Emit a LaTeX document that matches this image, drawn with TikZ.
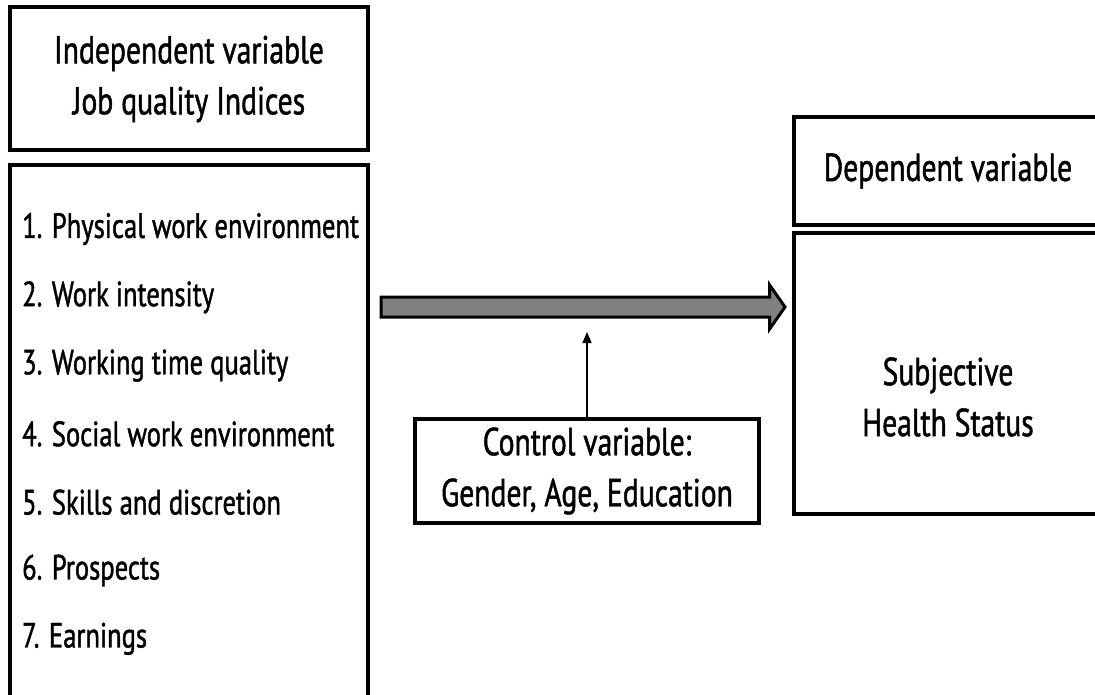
\documentclass[tikz,border=0pt]{standalone}
\usepackage{fontspec}
\setmainfont{PT Sans}[FakeStretch=0.76,FakeBold=1.2]
\usetikzlibrary{shapes.arrows,arrows.meta}

\begin{document}
\begin{tikzpicture}[
  x=1pt, y=-1pt,
  box/.style={rectangle, draw, line width=4pt, align=center, inner sep=0pt},
  item/.style={anchor=west, inner sep=0pt, font=\fontsize{35}{40}\selectfont},
  big/.style={font=\fontsize{39}{51}\selectfont},
  flow/.style={single arrow, draw, fill=gray, line width=3pt, inner xsep=0pt, inner ysep=8.5pt,
    single arrow head extend=12pt, single arrow tip angle=110, minimum height=404pt},
  ctrlarrow/.style={-{Triangle[length=11pt,width=9pt]}, line width=1.3pt}
]
\useasboundingbox (0,0) rectangle (1095,695);
\clip (0,0) rectangle (1095,695);

% Independent variable
\node[box, big, minimum width=358pt, minimum height=143pt] (title) at (189,79)
  {Independent variable\\Job quality Indices};
\node[box, minimum width=358pt, minimum height=600pt, anchor=north] (list) at (189,163) {};
\foreach \txt [count=\i] in {Physical work environment, Work intensity, Working time quality,
  Social work environment, Skills and discretion, Prospects, Earnings}
  \node[item] (item\i) at (22,{229+68.3*(\i-1)}) {\i. \txt};

% Dependent variable
\node[box, big, minimum width=308pt, minimum height=108pt, anchor=north west] (dep) at (792,115)
  {Dependent variable};
\node[box, minimum width=308pt, minimum height=281pt, anchor=north west] (subj) at (792,231) {};
\node[big, align=center] (subjtxt) at ([yshift=-23.5pt]subj.center) {Subjective\\Health Status};

% Control variable
\node[box, big, minimum width=344pt, minimum height=104pt] (ctrl) at (587,471)
  {Control variable:\\Gender, Age, Education};

% Arrows
\node[flow] (path) at (579.5,307) {};
\coordinate (hit) at (587,332);
\draw[ctrlarrow] (ctrl.north) -- (hit);
\end{tikzpicture}
\end{document}
